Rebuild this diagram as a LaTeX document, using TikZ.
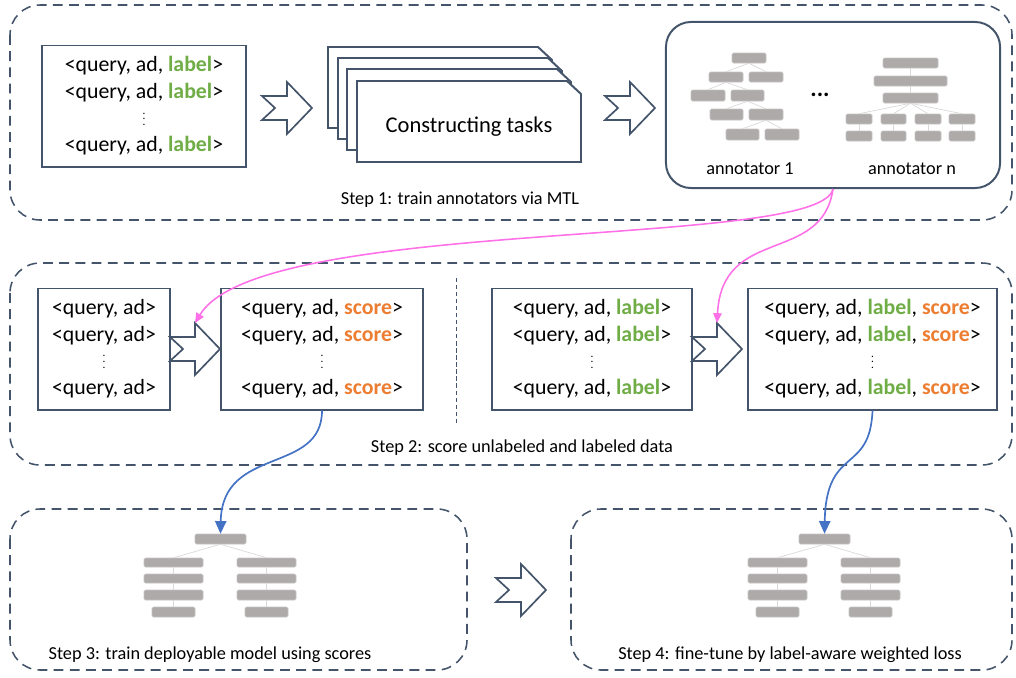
\documentclass[tikz,border=0pt]{standalone}
\usepackage{fontspec}
\setmainfont{Carlito}
\usetikzlibrary{arrows.meta}
\definecolor{slate}{HTML}{44546A}
\definecolor{lblgreen}{HTML}{70AD47}
\definecolor{scrorange}{HTML}{ED7D31}
\definecolor{annpink}{HTML}{FF6FE8}
\definecolor{mdlblue}{HTML}{4472C4}
\definecolor{nodegrey}{HTML}{AEAAAA}
\newcommand{\lbl}{\textcolor{lblgreen}{\textbf{label}}}
\newcommand{\scr}{\textcolor{scrorange}{\textbf{score}}}
\newcommand{\vd}{{\fontsize{8}{8}\selectfont$\vdots$}}
% grey layer box: name, x1, y1, x2, y2 (pixels)
\newcommand{\gb}[5]{\node[gbox, minimum width={(#4-#2)*0.025cm}, minimum height={(#5-#3)*0.025cm}] (#1) at ({(#2+#4)/2},{(#3+#5)/2}) {};}
% notched hollow arrow: name of head-top coordinate, tail x, mid y
\newcommand{\notcharrow}[3]{%
  \draw[hollow] (#2,#3-12) -- ++(25,0) -- ++(0,-14) -- ++(25,26) -- ++(-25,26) -- ++(0,-14) -- ++(-25,0) -- ++(13,-12) -- cycle;
  \coordinate (#1) at (#2+25,#3-26);}
% deployable model: name prefix, x shift
\newcommand{\modeltree}[2]{%
  \begin{scope}[shift={(#2,0)}]
  \gb{#1top}{195}{534}{246}{544}
  \gb{#1l1}{144}{558}{203}{567}
  \gb{#1l2}{144}{574}{203}{583}
  \gb{#1l3}{144}{590}{203}{600}
  \gb{#1l4}{152}{607}{195}{617}
  \gb{#1r1}{237}{558}{296}{567}
  \gb{#1r2}{237}{574}{296}{583}
  \gb{#1r3}{237}{590}{296}{600}
  \gb{#1r4}{245}{607}{288}{617}
  \draw[tedge] (#1top.south) -- (#1l1.north);
  \draw[tedge] (#1top.south) -- (#1r1.north);
  \draw[tedge] (#1l1) -- (#1l2) -- (#1l3) -- (#1l4);
  \draw[tedge] (#1r1) -- (#1r2) -- (#1r3) -- (#1r4);
  \end{scope}}
\tikzset{
  stepframe/.style={draw=slate, line width=1.1pt, dash pattern=on 7pt off 4.5pt, rounded corners=0.75cm},
  databox/.style={draw=slate, line width=1.4pt, fill=white, align=center, minimum height=3.025cm, inner sep=0pt, font=\fontsize{15.5}{19}\selectfont},
  hollow/.style={draw=slate, line width=1.2pt, fill=white, line join=miter},
  pagebox/.style={draw=slate, line width=1.4pt, fill=white},
  gbox/.style={draw=nodegrey!70!white, fill=nodegrey, line width=0.4pt, rounded corners=1pt, inner sep=0pt},
  tedge/.style={draw=gray!30, line width=0.5pt},
  steptext/.style={font=\fontsize{13}{15}\selectfont},
  pinkarr/.style={draw=annpink, line width=1.1pt, -{Triangle[length=7pt, width=6pt]}},
  bluearr/.style={draw=mdlblue, line width=1.2pt, -{Triangle[length=9pt, width=8pt]}}
}
\begin{document}
\begin{tikzpicture}[x=0.025cm, y=-0.025cm]
\useasboundingbox (0,0) rectangle (1016,677);
% frames
\draw[stepframe] (10,5) rectangle (1012,220);
\draw[stepframe] (10,263) rectangle (1012,465);
\draw[stepframe] (10,509) rectangle (467,670);
\draw[stepframe] (571,509) rectangle (1012,670);

% step 1
\node[databox, minimum width=5.1cm] (train) at (144,106)
  {<query, ad, \lbl>\\<query, ad, \lbl>\\\vd\\<query, ad, \lbl>};
\notcharrow{arrT}{262}{108}
\foreach \px/\py in {328/47, 338/58, 347/69, 357/81}
  \draw[pagebox] (\px,\py) -- ++(210,0) -- ++(14,13) -- ++(0,68) -- ++(-224,0) -- cycle;
\node[font=\fontsize{16}{18}\selectfont] (tasks) at (469,127) {Constructing tasks};
\notcharrow{arrA}{605}{108}
\node[draw=slate, line width=1.4pt, rounded corners=0.625cm, minimum width=8.35cm, minimum height=4.15cm] (annot) at (833,105) {};
\gb{a1r1}{732}{53}{766}{63}
\gb{a1r2a}{709}{72}{743}{82}
\gb{a1r2b}{749}{72}{783}{82}
\gb{a1r3a}{691}{90}{725}{101}
\gb{a1r3b}{731}{90}{764}{101}
\gb{a1r4a}{710}{109}{743}{120}
\gb{a1r4b}{749}{109}{783}{120}
\gb{a1r5a}{726}{129}{759}{140}
\gb{a1r5b}{765}{129}{799}{140}
\draw[tedge] (a1r1.south) -- (a1r2a.north);
\draw[tedge] (a1r1.south) -- (a1r2b.north);
\draw[tedge] (a1r2a.south) -- (a1r3a.north);
\draw[tedge] (a1r2a.south) -- (a1r3b.north);
\draw[tedge] (a1r3b.south) -- (a1r4a.north);
\draw[tedge] (a1r3b.south) -- (a1r4b.north);
\draw[tedge] (a1r4b.south) -- (a1r5a.north);
\draw[tedge] (a1r4b.south) -- (a1r5b.north);
\gb{anr1}{883}{58}{938}{68}
\gb{anr2}{874}{76}{947}{86}
\gb{anr3}{883}{93}{938}{103}
\draw[tedge] (anr1) -- (anr2) -- (anr3);
\foreach \n/\xa/\xb in {a/846/872, b/881/906, c/915/941, d/949/975} {
  \gb{anr4\n}{\xa}{114}{\xb}{124}
  \gb{anr5\n}{\xa}{131}{\xb}{141}
  \draw[tedge] (anr3.south) -- (anr4\n.north);
  \draw[tedge] (anr4\n.south) -- (anr5\n.north);
}
\node[font=\fontsize{17}{18}\selectfont\bfseries] (dots) at (820,95) {...};
\node[steptext] (ann1) at (750,169) {annotator 1};
\node[steptext] (annn) at (912,169) {annotator n};
\node[steptext] (step1) at (460,200) {Step 1: train annotators via MTL};

% step 2
\node[databox, minimum width=3.3cm] (unlab) at (104,349)
  {<query, ad>\\<query, ad>\\\vd\\<query, ad>};
\notcharrow{arrU}{170}{349}
\node[databox, minimum width=5.05cm] (unlabsc) at (322,349)
  {<query, ad, \scr>\\<query, ad, \scr>\\\vd\\<query, ad, \scr>};
\draw[draw=slate, line width=0.6pt, dash pattern=on 3pt off 2pt] (456,278) -- (456,425);
\node[databox, minimum width=5cm] (lab) at (592,349)
  {<query, ad, \lbl>\\<query, ad, \lbl>\\\vd\\<query, ad, \lbl>};
\notcharrow{arrL}{692}{349}
\node[databox, minimum width=6.225cm] (labsc) at (872.5,349)
  {<query, ad, \lbl, \scr>\\<query, ad, \lbl, \scr>\\\vd\\<query, ad, \lbl, \scr>};
\node[steptext] (step2) at (522,448) {Step 2: score unlabeled and labeled data};

% step 3 and 4
\modeltree{m3}{0}
\modeltree{m4}{604}
\notcharrow{arrS}{496}{590}
\node[steptext] (step3) at (210,655) {Step 3: train deployable model using scores};
\node[steptext] (step4) at (790,655) {Step 4: fine-tune by label-aware weighted loss};

% connectors
\draw[pinkarr] (annot.south) .. controls (820,250) and (260,215) .. (arrU);
\draw[pinkarr] (annot.south) .. controls (822,265) and (722,225) .. (arrL);
\draw[bluearr] (unlabsc.south) .. controls (322,475) and (222,445) .. (m3top.north);
\draw[bluearr] (labsc.south) .. controls (870,475) and (826,445) .. (m4top.north);
\end{tikzpicture}
\end{document}
